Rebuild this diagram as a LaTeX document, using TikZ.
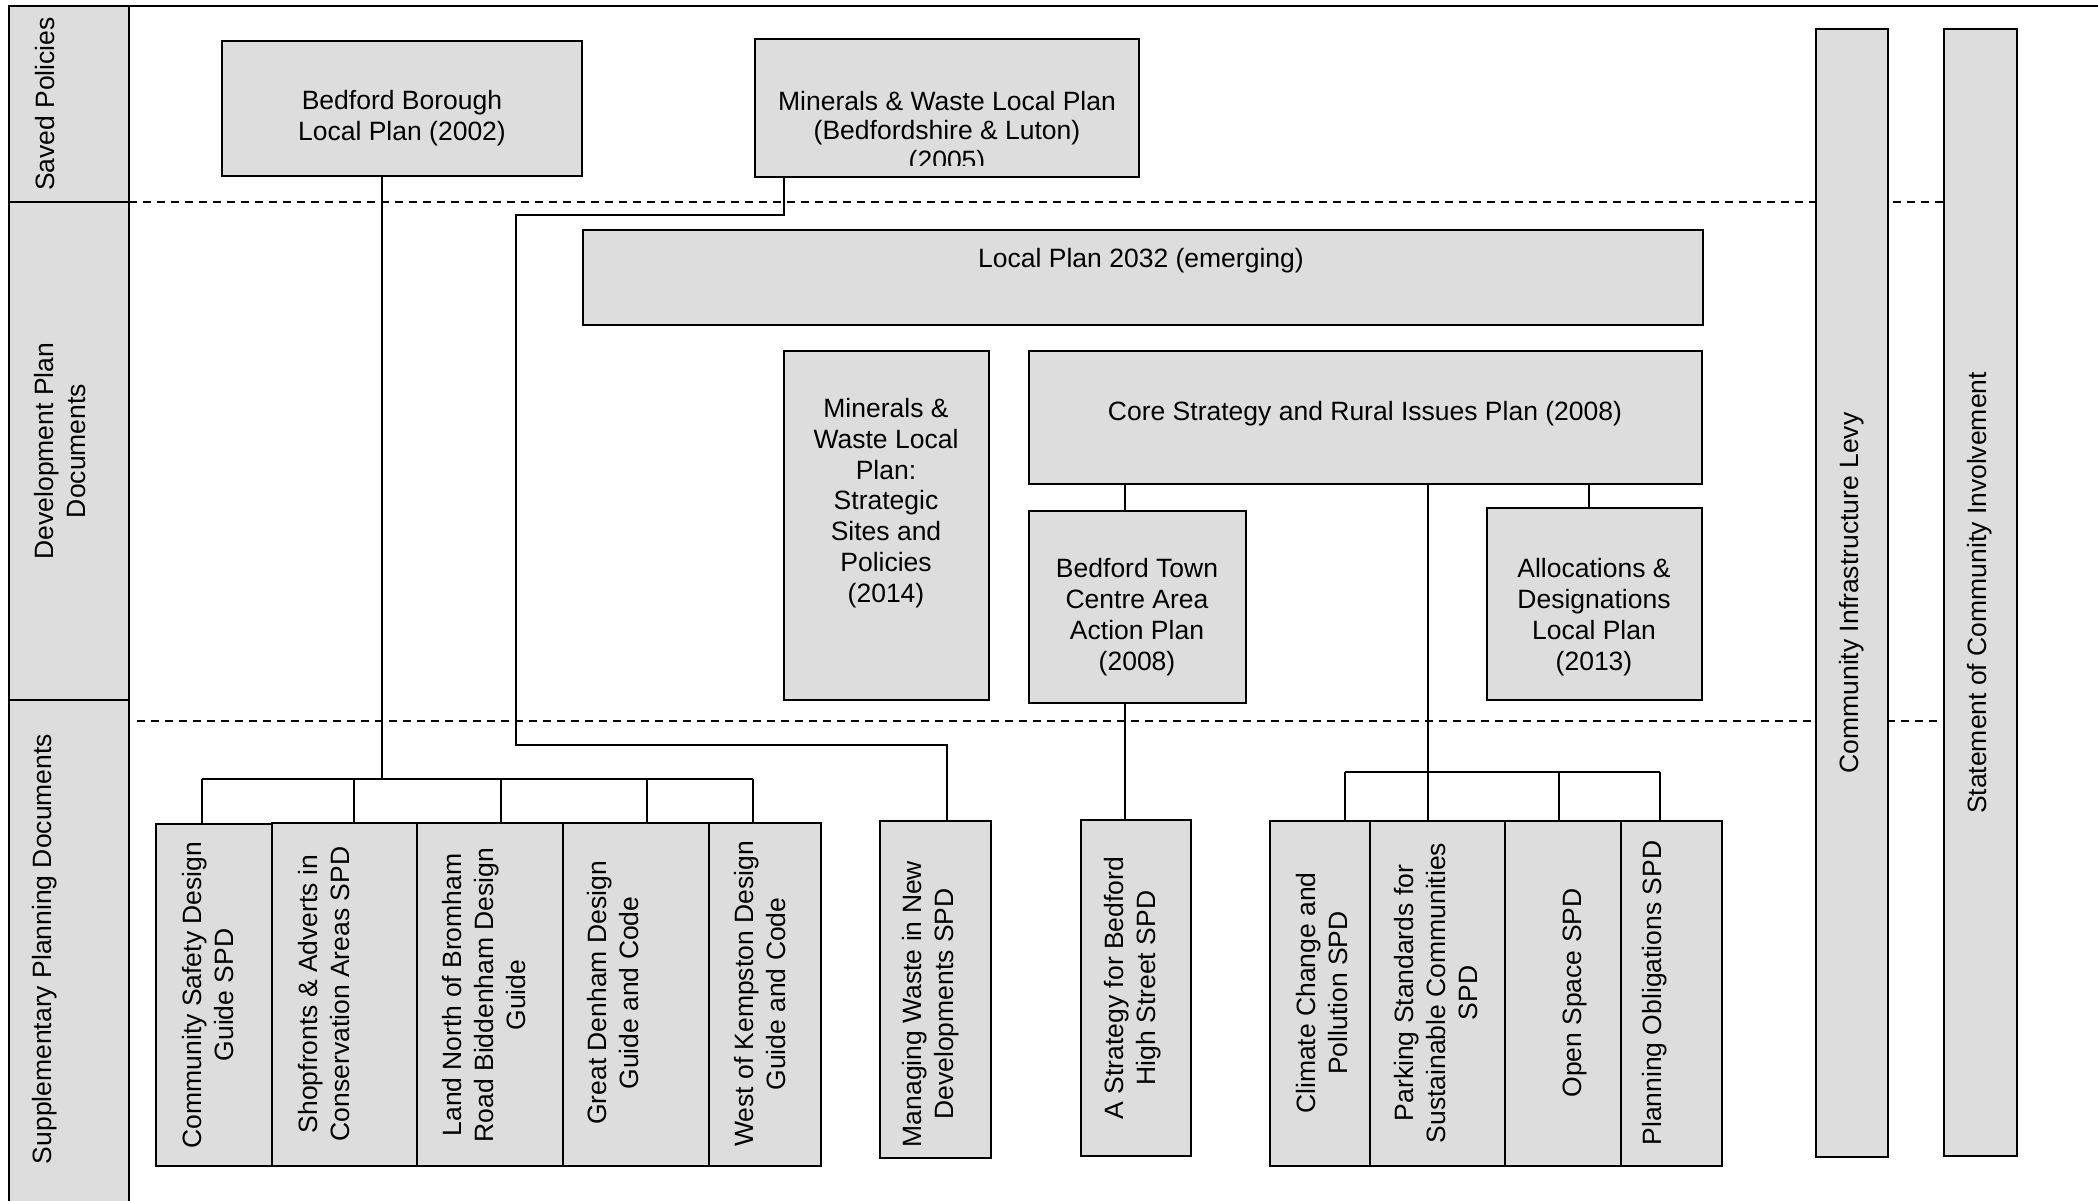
\documentclass[tikz,border=0pt]{standalone}
\usepackage{fontspec}
\setmainfont{Liberation Sans}
\usetikzlibrary{fit}
\definecolor{boxgray}{HTML}{DDDDDD}
\begin{document}
\begin{tikzpicture}[x=0.5pt,y=-0.5pt,
  box/.style={draw=black, fill=boxgray, line width=0.9pt, inner sep=0pt, outer sep=0pt},
  txt/.style={font=\fontsize{13.25}{15.4}\selectfont, align=center, inner sep=0pt},
  vtxt/.style={font=\fontsize{13.25}{16}\selectfont, align=center, inner sep=0pt, rotate=90},
  link/.style={draw=black, line width=0.6pt},
  frame/.style={draw=black, line width=1pt},
  sep/.style={draw=black, line width=0.8pt, dash pattern=on 4pt off 3pt}]
\useasboundingbox (0,0) rectangle (2098,1200);

% left band
\node[box, fit={(9,6) (129,202)}] (bsp) {};
\node[box, fit={(9,202) (129,700)}] (bdp) {};
\node[box, fit={(9,700) (129,1210)}] (bspd) {};
\node[vtxt] (bspt) at (45,104) {Saved Policies};
\node[vtxt] (bdpt) at (60.5,451) {Development Plan\\Documents};
\node[vtxt] (bspdt) at (45,949) {Supplementary Planning Documents};
\coordinate (tr) at (2100,6);
\draw[frame] (bsp.north west) -- (tr);

% dashed separators
\coordinate (s1r) at (1944,202);
\coordinate (s2l) at (137,721);
\coordinate (s2r) at (1944,721);
\draw[sep] (bsp.south east) -- (s1r);
\draw[sep] (s2l) -- (s2r);

% connector points
\coordinate (b1) at (382,779);
\coordinate (b1l) at (202,779);
\coordinate (b1a) at (354,779);
\coordinate (b1b) at (501,779);
\coordinate (b1c) at (647,779);
\coordinate (b1r) at (753,779);
\coordinate (m1) at (784,215);
\coordinate (m2) at (516,215);
\coordinate (m3) at (516,745);
\coordinate (m4) at (947,745);
\coordinate (k1) at (1125,600);
\coordinate (k2) at (1589,600);
\coordinate (g3) at (1428,772);
\coordinate (g3l) at (1345,772);
\coordinate (g3m) at (1559,772);
\coordinate (g3r) at (1660,772);

% top boxes
\node[box, fit={(222,41) (582,176)}] (bbl) {};
\node[txt] (bblt) at (402,118) {Bedford Borough\\Local Plan (2002)};
\node[box, fit={(755,39) (1139,177)}] (mwl) {};
\begin{scope}
\clip (755,39) rectangle (1139,165);
\node[txt, font=\fontsize{13.25}{14.9}\selectfont] (mwlt) at (947,133) {Minerals \& Waste Local Plan\\(Bedfordshire \& Luton)\\(2005)};
\end{scope}

\node[box, fit={(583,230) (1703,325)}] (lp) {};
\node[txt] (lpt) at (1141,261) {Local Plan 2032 (emerging)};
\node[box, fit={(784,351) (989,700)}] (mws) {};
\node[txt] (mwst) at (886,503) {Minerals \&\\Waste Local\\Plan:\\Strategic\\Sites and\\Policies\\(2014)};
\node[box, fit={(1029,351) (1702,484)}] (core) {};
\node[txt] (coret) at (1365,414) {Core Strategy and Rural Issues Plan (2008)};
\node[box, fit={(1029,511) (1246,703)}] (btc) {};
\node[txt] (btct) at (1137,617) {Bedford Town\\Centre Area\\Action Plan\\(2008)};
\node[box, fit={(1487,508) (1702,700)}] (adl) {};
\node[txt] (adlt) at (1594,617) {Allocations \&\\Designations\\Local Plan\\(2013)};

% right bars
\node[box, fit={(1816,29) (1888,1157)}] (cil) {};
\node[vtxt] (cilt) at (1852,593) {Community Infrastructure Levy};
\node[box, fit={(1944,29) (2017,1156)}] (sci) {};
\node[vtxt] (scit) at (1980,593) {Statement of Community Involvement};

% SPD boxes
\node[box, fit={(156,824) (272,1166)}] (csd) {};
\node[vtxt] (csdt) at (208.5,995) {Community Safety Design\\Guide SPD};
\node[box, fit={(272,823) (417,1166)}] (sac) {};
\node[vtxt] (sact) at (324.5,994) {Shopfronts \& Adverts in\\Conservation Areas SPD};
\node[box, fit={(417,823) (563,1166)}] (lnb) {};
\node[vtxt] (lnbt) at (484,995) {Land North of Bromham\\Road Biddenham Design\\Guide};
\node[box, fit={(563,823) (709,1166)}] (gdd) {};
\node[vtxt] (gddt) at (613.5,993) {Great Denham Design\\Guide and Code};
\node[box, fit={(709,823) (821,1166)}] (wkd) {};
\node[vtxt] (wkdt) at (760,994) {West of Kempston Design\\Guide and Code};
\node[box, fit={(880,821) (991,1158)}] (mwd) {};
\node[vtxt] (mwdt) at (931,1004) {Managing Waste in New\\Developments SPD};
\node[box, fit={(1081,820) (1191,1156)}] (sbh) {};
\node[vtxt] (sbht) at (1133,988) {A Strategy for Bedford\\High Street SPD};
\node[box, fit={(1270,821) (1370,1166)}] (ccp) {};
\node[vtxt] (ccpt) at (1322,993) {Climate Change and\\Pollution SPD};
\node[box, fit={(1370,821) (1505,1166)}] (pss) {};
\node[vtxt] (psst) at (1436,993) {Parking Standards for\\Sustainable Communities\\SPD};
\node[box, fit={(1505,821) (1621,1166)}] (osp) {};
\node[vtxt] (ospt) at (1575,993) {Open Space SPD};
\node[box, fit={(1621,821) (1722,1166)}] (pos) {};
\node[vtxt] (post) at (1655,993) {Planning Obligations SPD};

% connectors
\draw[link] (bbl.south -| b1) -- (b1);
\draw[link] (b1l) -- (b1r);
\draw[link] (b1l) -- (b1l |- csd.north);
\draw[link] (b1a) -- (b1a |- sac.north);
\draw[link] (b1b) -- (b1b |- lnb.north);
\draw[link] (b1c) -- (b1c |- gdd.north);
\draw[link] (b1r) -- (b1r |- wkd.north);

\draw[link] (mwl.south -| m1) -- (m1) -- (m2) -- (m3) -- (m4) -- (m4 |- mwd.north);

\draw[link] (core.south -| k1) -- (k1 |- btc.north);
\draw[link] (k1 |- btc.south) -- (k1 |- sbh.north);
\draw[link] (core.south -| k2) -- (k2 |- adl.north);

\draw[link] (core.south -| g3) -- (g3 |- pss.north);
\draw[link] (g3l) -- (g3r);
\draw[link] (g3l) -- (g3l |- ccp.north);
\draw[link] (g3m) -- (g3m |- osp.north);
\draw[link] (g3r) -- (g3r |- pos.north);
\end{tikzpicture}
\end{document}
